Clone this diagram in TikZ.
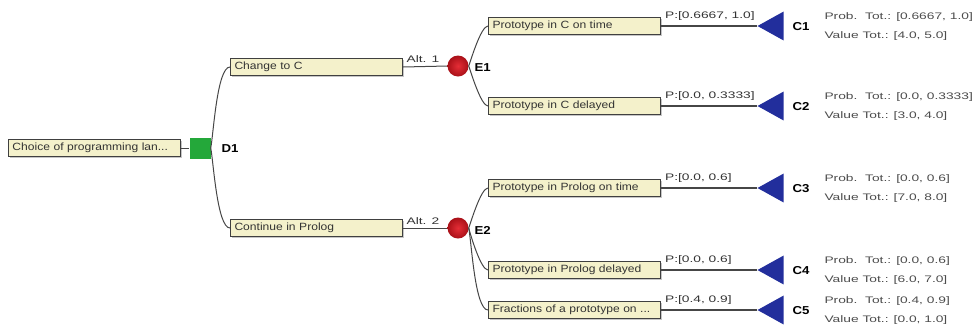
\documentclass[tikz,border=0pt]{standalone}
\usepackage{fontspec}
\setmainfont{Liberation Sans}[FakeStretch=1.15]
\newfontfamily\widefont{Liberation Sans}[FakeStretch=1.45]
\usetikzlibrary{shapes.geometric, shadows}
\definecolor{boxfill}{RGB}{244,241,203}
\definecolor{decgreen}{RGB}{36,168,58}
\definecolor{chred}{RGB}{226,22,32}
\definecolor{termblue}{RGB}{34,46,156}
\definecolor{linegray}{RGB}{70,70,70}

\begin{document}
\begin{tikzpicture}[x=1pt, y=-1pt,
	every node/.style={font=\fontsize{10.5}{12}\selectfont, text=black!80},
	box/.style={draw=black!75, line width=1pt, fill=boxfill, minimum width=172pt, minimum height=17pt,
		text width=164pt, inner xsep=4pt, inner ysep=0pt, align=left, anchor=west,
		drop shadow={shadow xshift=1.3pt, shadow yshift=-1.3pt, opacity=0.45}},
	decision/.style={rectangle, fill=decgreen, minimum size=21pt, inner sep=0pt},
	chance/.style={circle, inner color=chred!90, outer color=chred!75!black, minimum size=21pt, inner sep=0pt},
	terminal/.style={isosceles triangle, isosceles triangle apex angle=58, shape border rotate=180,
		fill=termblue, minimum height=26pt, inner sep=0pt},
	lbl/.style={font=\fontsize{11.5}{12}\selectfont\bfseries, text=black},
	small/.style={font=\widefont\fontsize{9.5}{10}\selectfont},
	branch/.style={linegray, line width=1pt},
	outcome/.style={linegray, line width=1.5pt}
]
	\useasboundingbox (0,0) rectangle (974,330);

	\node[box] (root) at (8,148) {Choice of programming lan...};
	\node[decision] (D1) at (200,148) {};
	\node[lbl, anchor=west] (D1lbl) at (218,149) {D1};
	\draw[branch] (root.east) -- (D1.west);

	\node[box] (chg) at (230,67) {Change to C};
	\node[box] (cont) at (230,228) {Continue in Prolog};
	\draw[branch] (D1.east) to[out=78, in=180, looseness=0.4] (chg.west);
	\draw[branch] (D1.east) to[out=-78, in=180, looseness=0.4] (cont.west);

	\node[chance] (E1) at (458,66) {};
	\node[chance] (E2) at (458,228) {};
	\node[lbl, anchor=west] (E1lbl) at (471,68) {E1};
	\node[lbl, anchor=west] (E2lbl) at (471,230) {E2};
	\draw[branch] (chg.east) -- node[small, above, pos=0.45] {Alt. 1} (E1.west);
	\draw[branch] (cont.east) -- node[small, above, pos=0.45] {Alt. 2} (E2.west);

	\foreach \n/\y/\src/\o/\txt/\p/\vt in {
		1/26/E1/70/{Prototype in C on time}/{[0.6667, 1.0]}/{[4.0, 5.0]},
		2/106/E1/-70/{Prototype in C delayed}/{[0.0, 0.3333]}/{[3.0, 4.0]},
		3/188/E2/70/{Prototype in Prolog on time}/{[0.0, 0.6]}/{[7.0, 8.0]},
		4/270/E2/-75/{Prototype in Prolog delayed}/{[0.0, 0.6]}/{[6.0, 7.0]},
		5/310/E2/-78/{Fractions of a prototype on ...}/{[0.4, 0.9]}/{[0.0, 1.0]}}
	{
		\node[box] (ev\n) at (488,\y) {\txt};
		\draw[branch] (\src.east) to[out=\o, in=180, looseness=0.4] (ev\n.west);
		\node[terminal] (C\n) at (775,\y) {};
		\node[lbl, anchor=west] (C\n lbl) at (789,\y+1) {C\n};
		\draw[outcome] (ev\n.east) -- node[small, pos=0, anchor=south west, yshift=1pt] {P:\p} (C\n.apex);
		\node[small, anchor=west, align=left, font=\widefont\fontsize{9.5}{19}\selectfont, text=black!70] (tot\n) at (821,\y+1)
			{Prob.\ \ Tot.: \p\\Value Tot.: \vt};
	}
\end{tikzpicture}
\end{document}
